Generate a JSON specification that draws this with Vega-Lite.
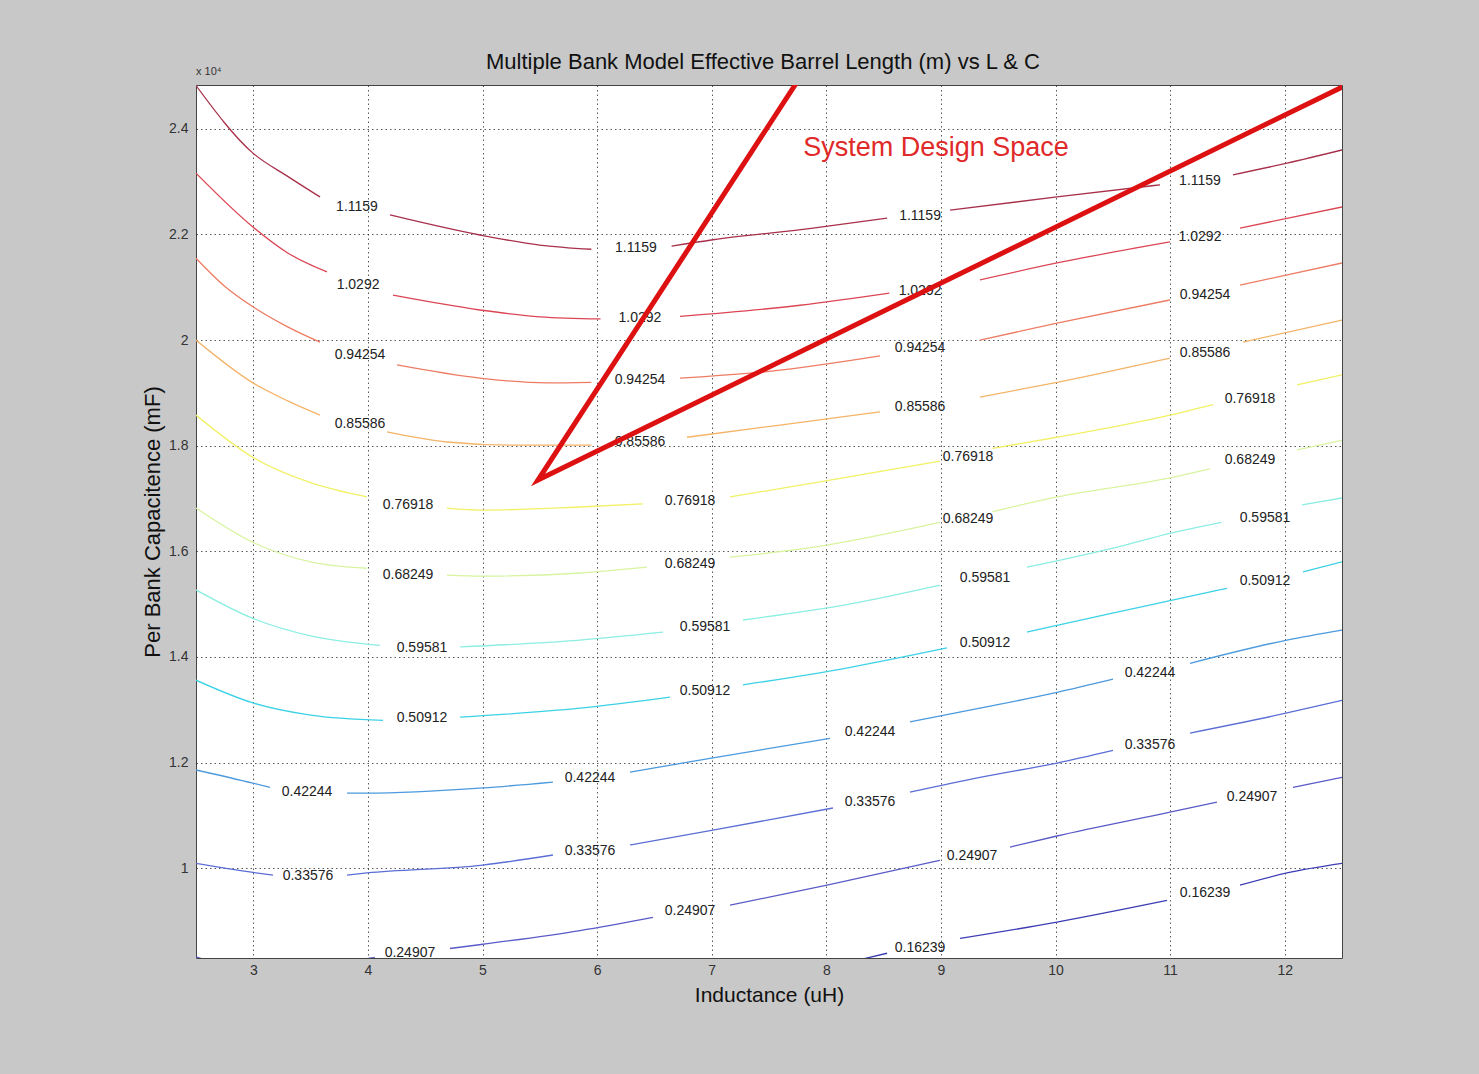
{
  "$schema": "https://vega.github.io/schema/vega-lite/v6.json",
  "width": 1146,
  "height": 873,
  "autosize": {"type": "none"},
  "padding": {"left": 196, "top": 85, "right": 137, "bottom": 116},
  "background": "#c8c8c8",
  "title": {"text": "Multiple Bank Model Effective Barrel Length (m) vs L & C", "font": "Liberation Sans", "fontSize": 22, "fontWeight": "normal", "color": "#111111", "offset": -8, "frame": "group", "anchor": "middle", "dx": -6},
  "config": {
    "view": {"fill": "white", "stroke": "#444444", "strokeWidth": 1},
    "axis": {"labelFont": "Liberation Sans", "titleFont": "Liberation Sans", "labelColor": "#333333", "titleColor": "#111111", "titleFontWeight": "normal", "labelFontSize": 14, "titleFontSize": 21, "ticks": false, "domain": false, "grid": true, "gridColor": "#222222", "gridDash": [1.5, 3], "gridOpacity": 0.75, "gridWidth": 1}
  },
  "datasets": {
    "contours": [
      {"level":"1.1159","seg":"a","L":2.5,"C":2.482},{"level":"1.1159","seg":"a","L":2.997,"C":2.354},{"level":"1.1159","seg":"a","L":3.3,"C":2.31},{"level":"1.1159","seg":"a","L":3.582,"C":2.271},
      {"level":"1.1159","seg":"b","L":4.193,"C":2.237},{"level":"1.1159","seg":"b","L":4.978,"C":2.199},{"level":"1.1159","seg":"b","L":5.5,"C":2.18},{"level":"1.1159","seg":"b","L":5.95,"C":2.172},
      {"level":"1.1159","seg":"c","L":6.65,"C":2.178},{"level":"1.1159","seg":"c","L":7.011,"C":2.19},{"level":"1.1159","seg":"c","L":7.884,"C":2.212},{"level":"1.1159","seg":"c","L":8.53,"C":2.231},
      {"level":"1.1159","seg":"d","L":9.08,"C":2.246},{"level":"1.1159","seg":"d","L":10.013,"C":2.271},{"level":"1.1159","seg":"d","L":10.912,"C":2.294},
      {"level":"1.1159","seg":"e","L":11.549,"C":2.313},{"level":"1.1159","seg":"e","L":12.02,"C":2.335},{"level":"1.1159","seg":"e","L":12.5,"C":2.36},

      {"level":"1.0292","seg":"a","L":2.5,"C":2.316},{"level":"1.0292","seg":"a","L":2.997,"C":2.214},{"level":"1.0292","seg":"a","L":3.3,"C":2.165},{"level":"1.0292","seg":"a","L":3.643,"C":2.129},
      {"level":"1.0292","seg":"b","L":4.219,"C":2.085},{"level":"1.0292","seg":"b","L":4.978,"C":2.057},{"level":"1.0292","seg":"b","L":5.5,"C":2.044},{"level":"1.0292","seg":"b","L":6.03,"C":2.04},
      {"level":"1.0292","seg":"c","L":6.723,"C":2.045},{"level":"1.0292","seg":"c","L":7.771,"C":2.066},{"level":"1.0292","seg":"c","L":8.55,"C":2.089},
      {"level":"1.0292","seg":"d","L":9.341,"C":2.114},{"level":"1.0292","seg":"d","L":10.013,"C":2.146},{"level":"1.0292","seg":"d","L":10.999,"C":2.186},
      {"level":"1.0292","seg":"e","L":11.61,"C":2.212},{"level":"1.0292","seg":"e","L":12.5,"C":2.252},

      {"level":"0.94254","seg":"a","L":2.5,"C":2.155},{"level":"0.94254","seg":"a","L":2.75,"C":2.102},{"level":"0.94254","seg":"a","L":2.997,"C":2.063},{"level":"0.94254","seg":"a","L":3.3,"C":2.025},{"level":"0.94254","seg":"a","L":3.582,"C":1.996},
      {"level":"0.94254","seg":"b","L":4.254,"C":1.953},{"level":"0.94254","seg":"b","L":4.978,"C":1.928},{"level":"0.94254","seg":"b","L":5.563,"C":1.919},{"level":"0.94254","seg":"b","L":5.95,"C":1.92},
      {"level":"0.94254","seg":"c","L":6.723,"C":1.928},{"level":"0.94254","seg":"c","L":7.596,"C":1.943},{"level":"0.94254","seg":"c","L":8.469,"C":1.97},
      {"level":"0.94254","seg":"d","L":9.341,"C":2.0},{"level":"0.94254","seg":"d","L":10.013,"C":2.032},{"level":"0.94254","seg":"d","L":10.999,"C":2.076},
      {"level":"0.94254","seg":"e","L":11.61,"C":2.104},{"level":"0.94254","seg":"e","L":12.5,"C":2.146},

      {"level":"0.85586","seg":"a","L":2.5,"C":2.0},{"level":"0.85586","seg":"a","L":2.997,"C":1.919},{"level":"0.85586","seg":"a","L":3.3,"C":1.885},{"level":"0.85586","seg":"a","L":3.582,"C":1.858},
      {"level":"0.85586","seg":"b","L":4.167,"C":1.826},{"level":"0.85586","seg":"b","L":4.69,"C":1.807},{"level":"0.85586","seg":"b","L":5.266,"C":1.801},{"level":"0.85586","seg":"b","L":5.95,"C":1.801},
      {"level":"0.85586","seg":"c","L":6.784,"C":1.816},{"level":"0.85586","seg":"c","L":7.596,"C":1.839},{"level":"0.85586","seg":"c","L":8.469,"C":1.864},
      {"level":"0.85586","seg":"d","L":9.341,"C":1.892},{"level":"0.85586","seg":"d","L":10.013,"C":1.92},{"level":"0.85586","seg":"d","L":10.999,"C":1.966},
      {"level":"0.85586","seg":"e","L":11.636,"C":1.996},{"level":"0.85586","seg":"e","L":12.5,"C":2.038},

      {"level":"0.76918","seg":"a","L":2.5,"C":1.858},{"level":"0.76918","seg":"a","L":2.997,"C":1.778},{"level":"0.76918","seg":"a","L":3.5,"C":1.73},{"level":"0.76918","seg":"a","L":3.992,"C":1.703},
      {"level":"0.76918","seg":"b","L":4.69,"C":1.682},{"level":"0.76918","seg":"b","L":5.004,"C":1.678},{"level":"0.76918","seg":"b","L":5.851,"C":1.684},{"level":"0.76918","seg":"b","L":6.401,"C":1.69},
      {"level":"0.76918","seg":"c","L":7.16,"C":1.703},{"level":"0.76918","seg":"c","L":8.032,"C":1.735},{"level":"0.76918","seg":"c","L":8.992,"C":1.771},
      {"level":"0.76918","seg":"d","L":9.45,"C":1.795},{"level":"0.76918","seg":"d","L":10.013,"C":1.816},{"level":"0.76918","seg":"d","L":10.999,"C":1.858},{"level":"0.76918","seg":"d","L":11.374,"C":1.878},
      {"level":"0.76918","seg":"e","L":12.107,"C":1.915},{"level":"0.76918","seg":"e","L":12.5,"C":1.934},

      {"level":"0.68249","seg":"a","L":2.5,"C":1.682},{"level":"0.68249","seg":"a","L":2.997,"C":1.617},{"level":"0.68249","seg":"a","L":3.5,"C":1.58},{"level":"0.68249","seg":"a","L":3.992,"C":1.568},
      {"level":"0.68249","seg":"b","L":4.69,"C":1.555},{"level":"0.68249","seg":"b","L":5.004,"C":1.553},{"level":"0.68249","seg":"b","L":5.851,"C":1.559},{"level":"0.68249","seg":"b","L":6.435,"C":1.57},
      {"level":"0.68249","seg":"c","L":7.16,"C":1.589},{"level":"0.68249","seg":"c","L":7.832,"C":1.606},{"level":"0.68249","seg":"c","L":8.992,"C":1.655},
      {"level":"0.68249","seg":"d","L":9.45,"C":1.675},{"level":"0.68249","seg":"d","L":10.013,"C":1.703},{"level":"0.68249","seg":"d","L":10.999,"C":1.739},{"level":"0.68249","seg":"d","L":11.348,"C":1.756},
      {"level":"0.68249","seg":"e","L":12.107,"C":1.792},{"level":"0.68249","seg":"e","L":12.5,"C":1.81},

      {"level":"0.59581","seg":"a","L":2.5,"C":1.527},{"level":"0.59581","seg":"a","L":2.997,"C":1.473},{"level":"0.59581","seg":"a","L":3.5,"C":1.44},{"level":"0.59581","seg":"a","L":4.106,"C":1.422},
      {"level":"0.59581","seg":"b","L":4.804,"C":1.419},{"level":"0.59581","seg":"b","L":5.851,"C":1.432},{"level":"0.59581","seg":"b","L":6.575,"C":1.447},
      {"level":"0.59581","seg":"c","L":7.273,"C":1.47},{"level":"0.59581","seg":"c","L":8.2,"C":1.5},{"level":"0.59581","seg":"c","L":8.992,"C":1.536},
      {"level":"0.59581","seg":"d","L":9.751,"C":1.57},{"level":"0.59581","seg":"d","L":10.013,"C":1.582},{"level":"0.59581","seg":"d","L":10.502,"C":1.606},{"level":"0.59581","seg":"d","L":10.999,"C":1.634},{"level":"0.59581","seg":"d","L":11.45,"C":1.655},
      {"level":"0.59581","seg":"e","L":12.15,"C":1.688},{"level":"0.59581","seg":"e","L":12.5,"C":1.701},

      {"level":"0.50912","seg":"a","L":2.5,"C":1.356},{"level":"0.50912","seg":"a","L":2.997,"C":1.313},{"level":"0.50912","seg":"a","L":3.5,"C":1.29},{"level":"0.50912","seg":"a","L":4.132,"C":1.28},
      {"level":"0.50912","seg":"b","L":4.804,"C":1.286},{"level":"0.50912","seg":"b","L":5.851,"C":1.303},{"level":"0.50912","seg":"b","L":6.636,"C":1.324},
      {"level":"0.50912","seg":"c","L":7.273,"C":1.347},{"level":"0.50912","seg":"c","L":8.2,"C":1.38},{"level":"0.50912","seg":"c","L":9.053,"C":1.417},
      {"level":"0.50912","seg":"d","L":9.751,"C":1.447},{"level":"0.50912","seg":"d","L":10.013,"C":1.46},{"level":"0.50912","seg":"d","L":10.8,"C":1.497},{"level":"0.50912","seg":"d","L":11.497,"C":1.53},
      {"level":"0.50912","seg":"e","L":12.159,"C":1.561},{"level":"0.50912","seg":"e","L":12.5,"C":1.58},

      {"level":"0.42244","seg":"a","L":2.5,"C":1.186},{"level":"0.42244","seg":"a","L":2.997,"C":1.161},{"level":"0.42244","seg":"a","L":3.146,"C":1.153},
      {"level":"0.42244","seg":"b","L":3.818,"C":1.142},{"level":"0.42244","seg":"b","L":3.992,"C":1.142},{"level":"0.42244","seg":"b","L":5.004,"C":1.152},{"level":"0.42244","seg":"b","L":5.615,"C":1.163},
      {"level":"0.42244","seg":"c","L":6.287,"C":1.182},{"level":"0.42244","seg":"c","L":6.985,"C":1.208},{"level":"0.42244","seg":"c","L":8.032,"C":1.246},
      {"level":"0.42244","seg":"d","L":8.73,"C":1.277},{"level":"0.42244","seg":"d","L":9.341,"C":1.303},{"level":"0.42244","seg":"d","L":10.013,"C":1.333},{"level":"0.42244","seg":"d","L":10.502,"C":1.358},
      {"level":"0.42244","seg":"e","L":11.174,"C":1.388},{"level":"0.42244","seg":"e","L":12.02,"C":1.432},{"level":"0.42244","seg":"e","L":12.5,"C":1.451},

      {"level":"0.33576","seg":"a","L":2.5,"C":1.009},{"level":"0.33576","seg":"a","L":2.997,"C":0.992},{"level":"0.33576","seg":"a","L":3.172,"C":0.987},
      {"level":"0.33576","seg":"b","L":3.818,"C":0.987},{"level":"0.33576","seg":"b","L":3.992,"C":0.991},{"level":"0.33576","seg":"b","L":5.004,"C":1.006},{"level":"0.33576","seg":"b","L":5.615,"C":1.025},
      {"level":"0.33576","seg":"c","L":6.287,"C":1.044},{"level":"0.33576","seg":"c","L":7.011,"C":1.072},{"level":"0.33576","seg":"c","L":8.058,"C":1.114},
      {"level":"0.33576","seg":"d","L":8.73,"C":1.144},{"level":"0.33576","seg":"d","L":9.341,"C":1.172},{"level":"0.33576","seg":"d","L":10.013,"C":1.199},{"level":"0.33576","seg":"d","L":10.502,"C":1.223},
      {"level":"0.33576","seg":"e","L":11.174,"C":1.256},{"level":"0.33576","seg":"e","L":12.02,"C":1.294},{"level":"0.33576","seg":"e","L":12.5,"C":1.318},

      {"level":"0.24907","seg":"a","L":2.5,"C":0.832},{"level":"0.24907","seg":"a","L":2.62,"C":0.824},
      {"level":"0.24907","seg":"b","L":3.75,"C":0.824},{"level":"0.24907","seg":"b","L":3.992,"C":0.829},{"level":"0.24907","seg":"b","L":4.06,"C":0.831},
      {"level":"0.24907","seg":"c","L":4.716,"C":0.848},{"level":"0.24907","seg":"c","L":5.004,"C":0.856},{"level":"0.24907","seg":"c","L":5.851,"C":0.882},{"level":"0.24907","seg":"c","L":6.488,"C":0.907},
      {"level":"0.24907","seg":"d","L":7.16,"C":0.93},{"level":"0.24907","seg":"d","L":8.006,"C":0.968},{"level":"0.24907","seg":"d","L":8.992,"C":1.015},
      {"level":"0.24907","seg":"e","L":9.603,"C":1.04},{"level":"0.24907","seg":"e","L":10.013,"C":1.061},{"level":"0.24907","seg":"e","L":10.999,"C":1.106},{"level":"0.24907","seg":"e","L":11.409,"C":1.125},
      {"level":"0.24907","seg":"f","L":12.072,"C":1.153},{"level":"0.24907","seg":"f","L":12.5,"C":1.172},

      {"level":"0.16239","seg":"a","L":8.2,"C":0.822},{"level":"0.16239","seg":"a","L":8.53,"C":0.839},
      {"level":"0.16239","seg":"b","L":9.167,"C":0.867},{"level":"0.16239","seg":"b","L":10.013,"C":0.898},{"level":"0.16239","seg":"b","L":10.973,"C":0.939},
      {"level":"0.16239","seg":"c","L":11.61,"C":0.968},{"level":"0.16239","seg":"c","L":12.02,"C":0.991},{"level":"0.16239","seg":"c","L":12.5,"C":1.009}
    ],
    "labels": [
      {"label":"1.1159","L":3.905,"C":2.252},{"label":"1.1159","L":6.339,"C":2.174},{"label":"1.1159","L":8.818,"C":2.235},{"label":"1.1159","L":11.261,"C":2.301},
      {"label":"1.0292","L":3.914,"C":2.104},{"label":"1.0292","L":6.374,"C":2.042},{"label":"1.0292","L":8.818,"C":2.093},{"label":"1.0292","L":11.261,"C":2.195},
      {"label":"0.94254","L":3.931,"C":1.972},{"label":"0.94254","L":6.374,"C":1.924},{"label":"0.94254","L":8.818,"C":1.985},{"label":"0.94254","L":11.305,"C":2.085},
      {"label":"0.85586","L":3.931,"C":1.841},{"label":"0.85586","L":6.374,"C":1.807},{"label":"0.85586","L":8.818,"C":1.873},{"label":"0.85586","L":11.305,"C":1.975},
      {"label":"0.76918","L":4.35,"C":1.688},{"label":"0.76918","L":6.811,"C":1.695},{"label":"0.76918","L":9.237,"C":1.778},{"label":"0.76918","L":11.697,"C":1.888},
      {"label":"0.68249","L":4.35,"C":1.555},{"label":"0.68249","L":6.811,"C":1.576},{"label":"0.68249","L":9.237,"C":1.661},{"label":"0.68249","L":11.697,"C":1.773},
      {"label":"0.59581","L":4.472,"C":1.417},{"label":"0.59581","L":6.942,"C":1.456},{"label":"0.59581","L":9.385,"C":1.549},{"label":"0.59581","L":11.828,"C":1.663},
      {"label":"0.50912","L":4.472,"C":1.284},{"label":"0.50912","L":6.942,"C":1.335},{"label":"0.50912","L":9.385,"C":1.426},{"label":"0.50912","L":11.828,"C":1.544},
      {"label":"0.42244","L":3.469,"C":1.144},{"label":"0.42244","L":5.938,"C":1.17},{"label":"0.42244","L":8.381,"C":1.258},{"label":"0.42244","L":10.824,"C":1.369},
      {"label":"0.33576","L":3.477,"C":0.985},{"label":"0.33576","L":5.938,"C":1.032},{"label":"0.33576","L":8.381,"C":1.125},{"label":"0.33576","L":10.824,"C":1.233},
      {"label":"0.24907","L":4.367,"C":0.839},{"label":"0.24907","L":6.811,"C":0.919},{"label":"0.24907","L":9.272,"C":1.023},{"label":"0.24907","L":11.715,"C":1.134},
      {"label":"0.16239","L":8.818,"C":0.848},{"label":"0.16239","L":11.305,"C":0.953}
    ],
    "triangle": [
      {"k":1,"L":7.838,"C":2.52},{"k":2,"L":5.484,"C":1.735},{"k":3,"L":12.6,"C":2.4896}
    ],
    "annot": [
      {"text":"System Design Space","L":8.957,"C":2.364}
    ],
    "exponent": [
      {"text":"x 10⁴","L":2.5,"C":2.508}
    ]
  },
  "encoding": {
    "x": {"field": "L", "type": "quantitative", "scale": {"domain": [2.5, 12.5], "nice": false, "zero": false}, "axis": {"title": "Inductance (uH)", "values": [3,4,5,6,7,8,9,10,11,12], "labelPadding": 5, "titlePadding": 7}},
    "y": {"field": "C", "type": "quantitative", "scale": {"domain": [0.83, 2.483], "nice": false, "zero": false}, "axis": {"title": "Per Bank Capacitence (mF)", "titleFontSize": 22, "values": [1,1.2,1.4,1.6,1.8,2,2.2,2.4], "format": "~g", "labelPadding": 8, "titlePadding": 4}}
  },
  "layer": [
    {
      "data": {"name": "contours"},
      "mark": {"type": "line", "strokeWidth": 1.3, "clip": true, "interpolate": "monotone"},
      "encoding": {
        "color": {"field": "level", "type": "nominal", "legend": null, "scale": {"domain": ["0.16239","0.24907","0.33576","0.42244","0.50912","0.59581","0.68249","0.76918","0.85586","0.94254","1.0292","1.1159"], "range": ["#3c3cb4","#5a5ac8","#5a6ed6","#4c9ade","#3cd2e6","#8ceee2","#d8f4a0","#f2f064","#f4b468","#ee7c64","#dc4654","#a8304a"]}},
        "detail": {"field": "seg"},
        "order": {"field": "L"}
      }
    },
    {
      "data": {"name": "labels"},
      "mark": {"type": "text", "font": "Liberation Sans", "fontSize": 14, "color": "#222222", "align": "center", "baseline": "middle"},
      "encoding": {"text": {"field": "label"}}
    },
    {
      "data": {"name": "triangle"},
      "mark": {"type": "line", "strokeWidth": 5, "color": "#dd1111", "clip": true, "strokeJoin": "miter"},
      "encoding": {"order": {"field": "k"}}
    },
    {
      "data": {"name": "annot"},
      "mark": {"type": "text", "font": "Liberation Sans", "fontSize": 27, "color": "#e02a2a", "align": "center", "baseline": "middle"},
      "encoding": {"text": {"field": "text"}}
    },
    {
      "data": {"name": "exponent"},
      "mark": {"type": "text", "font": "Liberation Sans", "fontSize": 11, "color": "#333333", "align": "left", "baseline": "middle", "clip": false},
      "encoding": {"text": {"field": "text"}}
    }
  ]
}
